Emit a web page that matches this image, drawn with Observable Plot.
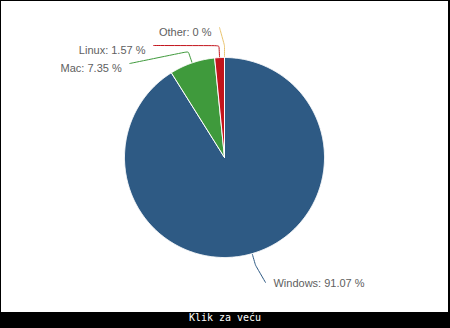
<!DOCTYPE html>
<html>
<head>
<meta charset="utf-8">
<script src="https://cdn.jsdelivr.net/npm/d3@7"></script>
<script src="https://cdn.jsdelivr.net/npm/@observablehq/plot@0.6"></script>
<style>
  html, body { margin: 0; padding: 0; background: #000; width: 450px; height: 328px; overflow: hidden; }
  #frame { position: absolute; left: 1px; top: 1px; width: 447px; height: 311px; background: #fff; }
  #caption { position: absolute; left: 0; top: 312px; width: 450px; height: 16px; line-height: 16px;
    color: #fff; text-align: center; font: 10px "DejaVu Sans Mono", monospace; }
</style>
</head>
<body>
<div id="frame"></div>
<div id="caption">Klik za veću</div>
<script>
// ---- data ----
const categories = ["Windows", "Mac", "Linux", "Other"];
const shares = ["91.07", "7.35", "1.57", "0"];
const colors = ["#2e5a84", "#3f9a3c", "#c3141c", "#e9c46f"];

// ---- layout (pie units = px) ----
const R = 100;          // pie radius
const LABEL_R = 130;    // label circle
const BREAK_R = 112;    // connector elbow
const GAP = 18;         // label spacing

const pie = d3.pie().sort(null).value(d => +d.share)(
  categories.map((c, i) => ({cat: c, share: shares[i]}))
);

// slice outlines
const slicePts = [];
pie.forEach(p => {
  const steps = Math.max(2, Math.ceil((p.endAngle - p.startAngle) / (Math.PI / 360)));
  slicePts.push({cat: p.data.cat, x: 0, y: 0});
  for (let k = 0; k <= steps; k++) {
    const a = p.startAngle + (p.endAngle - p.startAngle) * k / steps;
    slicePts.push({cat: p.data.cat, x: R * Math.sin(a), y: -R * Math.cos(a)});
  }
  slicePts.push({cat: p.data.cat, x: 0, y: 0});
});

// labels: natural position, then stack left labels downward
const labels = pie.map(p => {
  const a = (p.startAngle + p.endAngle) / 2;
  const s = Math.sin(a), c = Math.cos(a);
  return {cat: p.data.cat, share: p.data.share, a, s, c,
    left: s < 0 || Math.abs(s) < 1e-9 && a > Math.PI,
    ny: -LABEL_R * c};
});
const leftLabels = labels.filter(d => d.left).sort((u, v) => u.ny - v.ny);
let prev = -Infinity;
leftLabels.forEach(d => { d.ly = Math.max(d.ny, prev + GAP); prev = d.ly; });
labels.filter(d => !d.left).forEach(d => { d.ly = d.ny; });
labels.forEach(d => {
  const dx = Math.sqrt(Math.max(0, LABEL_R * LABEL_R - d.ly * d.ly)) + 5;
  d.lx = d.left ? -dx : dx;
  d.tx = d.left ? d.lx - 8 : d.lx + 8;
  d.ty = d.ly + (d.left ? 5 : 1);
  d.text = `${d.cat}: ${d.share} %`;
});

const connectorPts = [];
labels.forEach(d => {
  const b = {cat: d.cat, x: BREAK_R * d.s, y: -BREAK_R * d.c};
  connectorPts.push({cat: d.cat, x: d.lx, y: d.ly});
  connectorPts.push({cat: d.cat, x: d.lx, y: d.ly});
  connectorPts.push(b);
  connectorPts.push(b);
  connectorPts.push({cat: d.cat, x: R * d.s, y: -R * d.c});
  connectorPts.push({cat: d.cat, x: R * d.s, y: -R * d.c});
});

const chart = Plot.plot({
  width: 447,
  height: 311,
  margin: 0,
  x: {domain: [-223, 224], axis: null},
  y: {domain: [155, -156], axis: null},
  color: {domain: categories, range: colors},
  style: {background: "#fff"},
  marks: [
    Plot.line(connectorPts, {x: "x", y: "y", z: "cat", stroke: "cat", strokeWidth: 1, curve: "basis"}),
    Plot.line(slicePts, {x: "x", y: "y", z: "cat", fill: "cat", stroke: "#fff", strokeWidth: 1, strokeLinejoin: "round"}),
    Plot.text(labels.filter(d => d.left), {x: "tx", y: "ty", text: "text", textAnchor: "end",
      fill: "#606060", fontSize: 11, fontFamily: "Liberation Sans, Arial, sans-serif"}),
    Plot.text(labels.filter(d => !d.left), {x: "tx", y: "ty", text: "text", textAnchor: "start",
      fill: "#606060", fontSize: 11, fontFamily: "Liberation Sans, Arial, sans-serif"})
  ]
});
document.getElementById("frame").appendChild(chart);
</script>
</body>
</html>
